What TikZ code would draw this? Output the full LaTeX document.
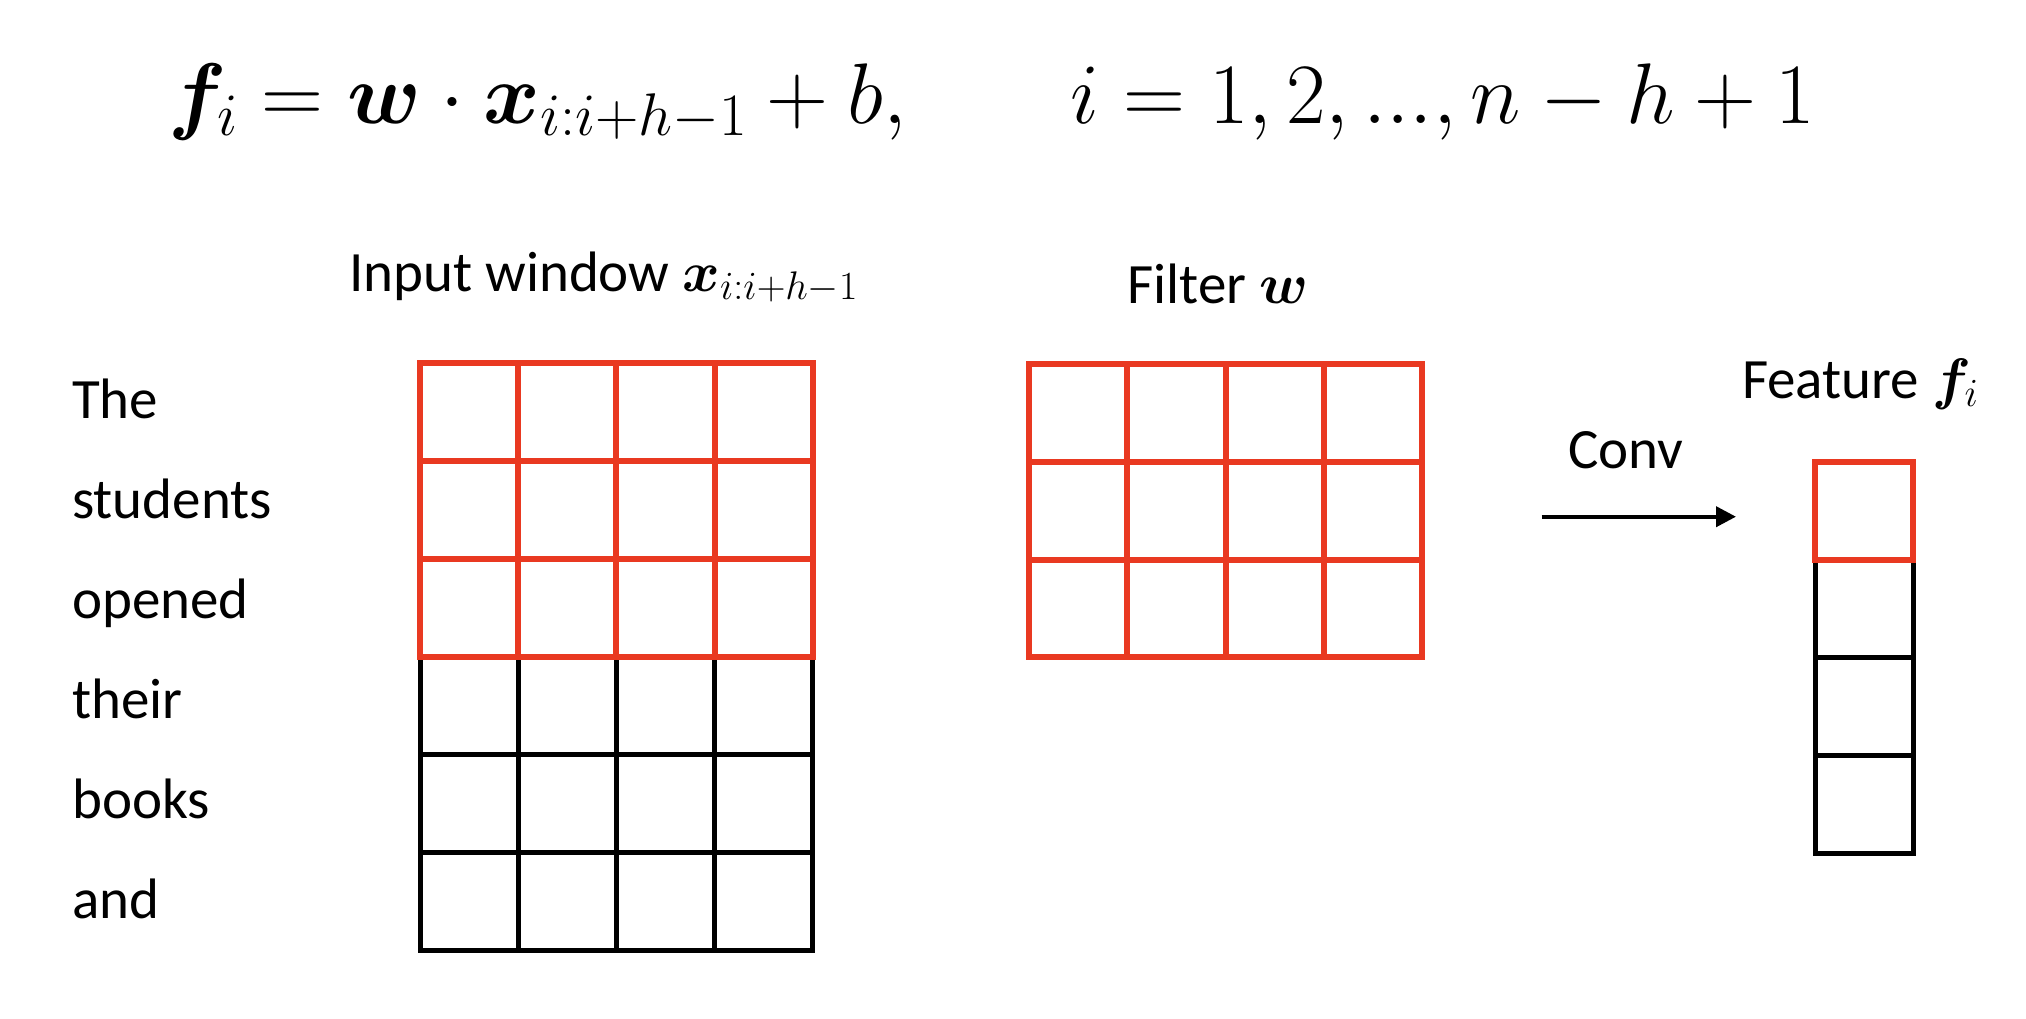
\RequirePackage{fix-cm}
\documentclass[tikz,border=0pt]{standalone}
\usepackage{amsmath,bm}
\usepackage{fontspec}
\setmainfont{Carlito}
\usetikzlibrary{arrows.meta}
\definecolor{winred}{RGB}{233,57,33}
\newcommand{\lbsize}{\fontsize{57}{68}\selectfont}
\newcommand{\eqsize}{\fontsize{86}{100}\selectfont}
\newcommand{\tightdots}{\mathord{.}\mathord{.}\mathord{.}}
\tikzset{
  lbl/.style={anchor=base west, inner sep=0pt, font=\lbsize},
  word/.style={anchor=base west, inner sep=0pt, font=\lbsize},
  eqn/.style={inner sep=0pt, font=\eqsize},
  redcell/.style={draw=winred, line width=6pt},
  blackcell/.style={draw=black, line width=5pt},
  convarrow/.style={line width=4pt, -{Triangle[length=20pt,width=20pt]}}
}
\begin{document}
\begin{tikzpicture}[x=1pt,y=-1pt]
\path[use as bounding box, fill=white] (0,0) rectangle (2026,1018);

% formula
\node[eqn, anchor=base west] (eqL) at (168,123) {$\boldsymbol{f}_i=\boldsymbol{w}\cdot\boldsymbol{x}_{i:i+h-1}+b,$};
\node[eqn, anchor=base east] (eqR) at (1815,123) {$i=1,2,\tightdots,n-h+1$};

% labels
\node[lbl] (inlbl) at (349,291) {Input window $\boldsymbol{x}_{i:i+h-1}$};
\node[lbl] (filtlbl) at (1127,303) {Filter $\boldsymbol{w}$};
\node[lbl] (featlbl) at (1742,398) {Feature $\boldsymbol{f}_i$};
\node[lbl] (convlbl) at (1568,468) {Conv};

% words
\node[word] (w1) at (72,418) {The};
\node[word] (w2) at (72,518) {students};
\node[word] (w3) at (72,618) {opened};
\node[word] (w4) at (72,718) {their};
\node[word] (w5) at (72,818) {books};
\node[word] (w6) at (72,918) {and};

% input grid: black rows 4-6
\foreach \r in {3,4,5}{
  \foreach \c in {0,1,2,3}{
    \draw[blackcell] ({420+\c*98.2},{363.3+\r*97.8}) rectangle ++(98.2,97.8);
  }
}
% input grid: red rows 1-3
\foreach \r in {0,1,2}{
  \foreach \c in {0,1,2,3}{
    \draw[redcell] ({420+\c*98.2},{363.3+\r*97.8}) rectangle ++(98.2,97.8);
  }
}
% filter grid
\foreach \r in {0,1,2}{
  \foreach \c in {0,1,2,3}{
    \draw[redcell] ({1029+\c*98.3},{364.3+\r*97.6}) rectangle ++(98.3,97.6);
  }
}
% feature column
\foreach \r in {1,2,3}{
  \draw[blackcell] (1815.3,{461.7+\r*97.9}) rectangle ++(98,97.9);
}
\draw[redcell] (1815.3,461.7) rectangle ++(98,97.9);

% arrow
\coordinate (arrS) at (1541.7,516.7);
\coordinate (arrE) at (1736,516.7);
\draw[convarrow] (arrS) -- (arrE);
\end{tikzpicture}
\end{document}
